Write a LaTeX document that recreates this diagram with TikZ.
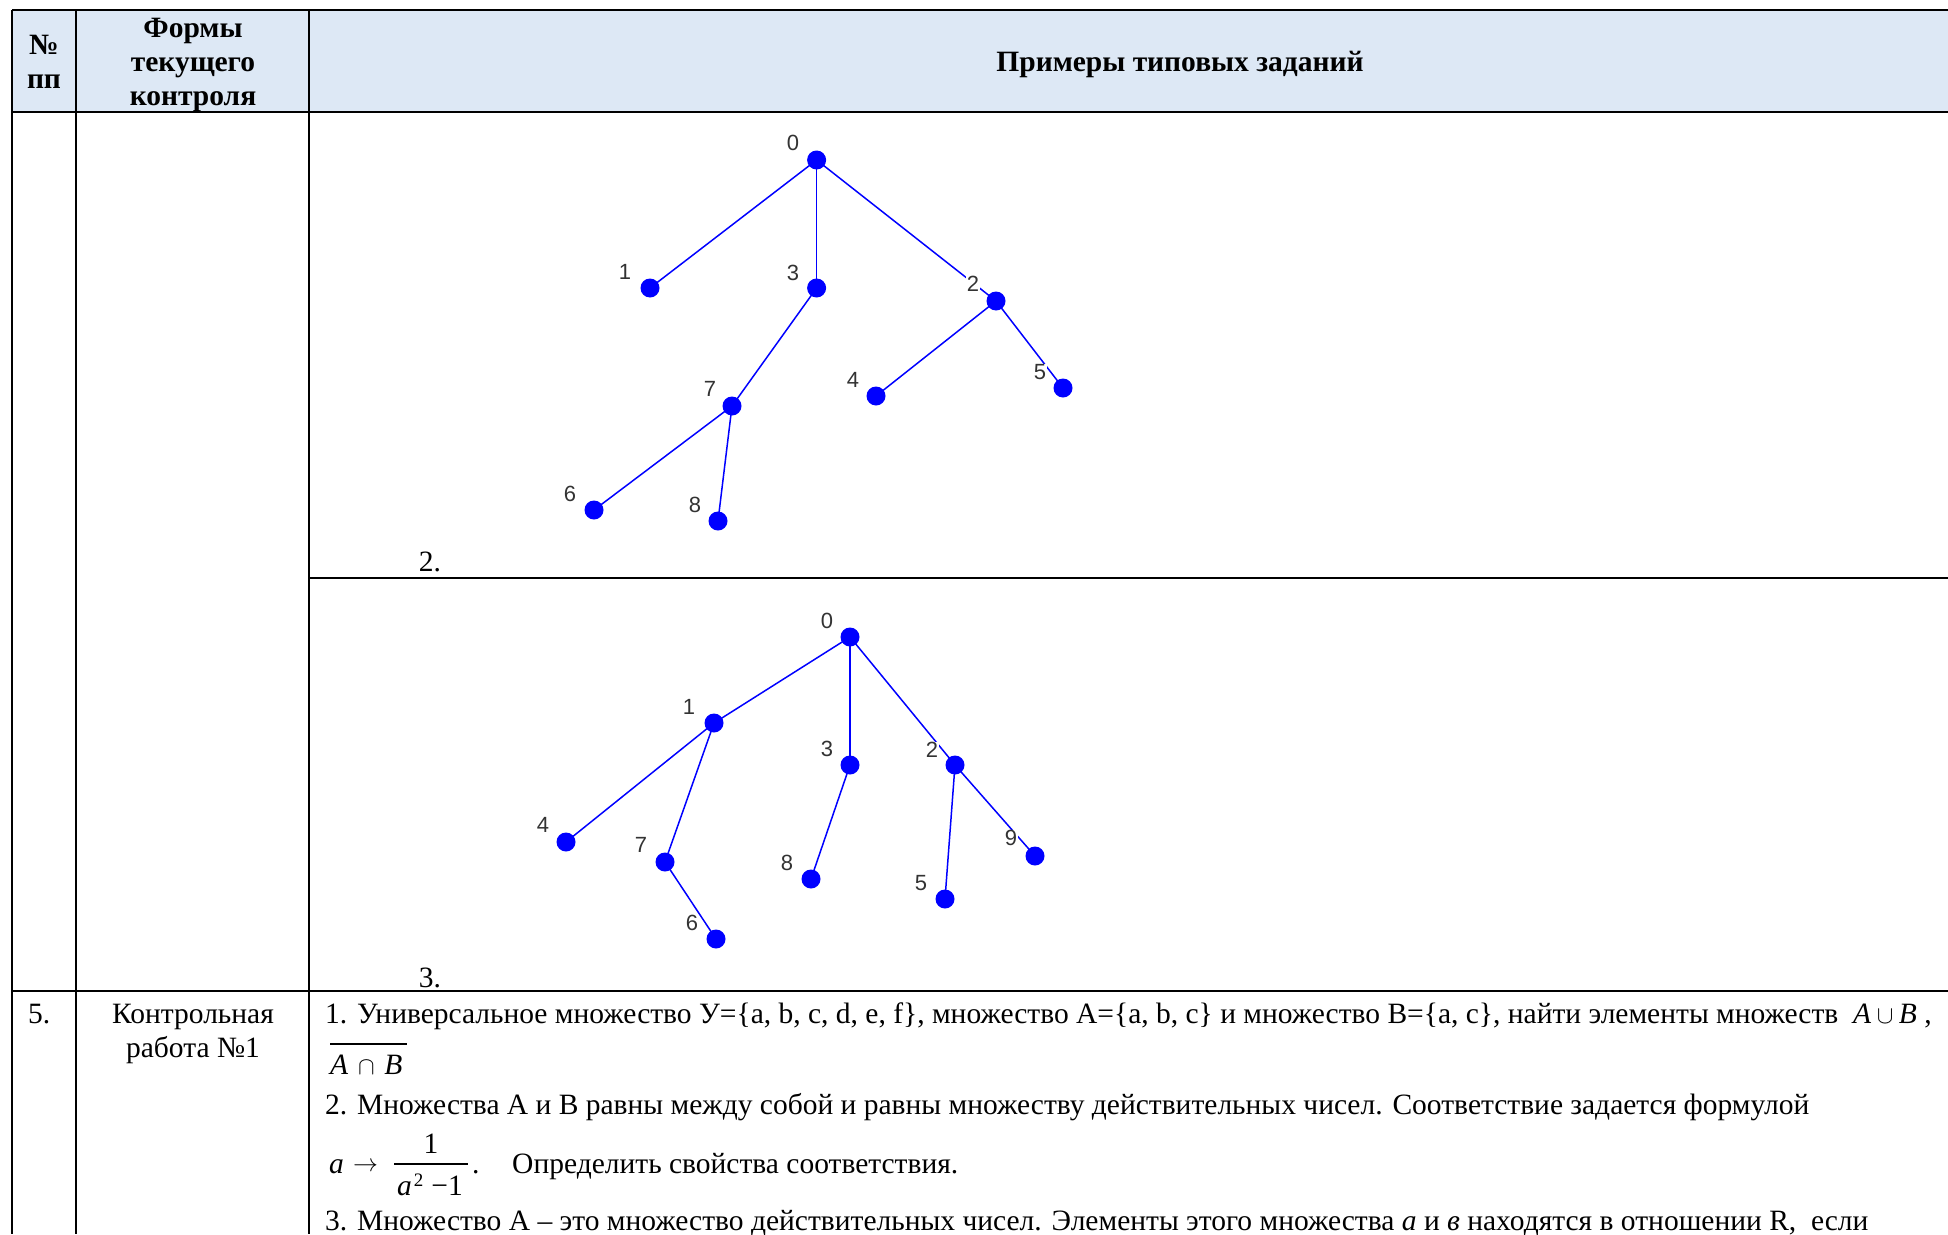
\documentclass[tikz,border=0pt]{standalone}
\usepackage{fontspec}
\setmainfont{Liberation Serif}
\setsansfont{Liberation Sans}
\usepackage{amsmath}
\definecolor{hdr}{RGB}{221,232,245}
\definecolor{treeblue}{RGB}{0,0,255}
\begin{document}
\begin{tikzpicture}[x=1pt,y=-1pt,
  rule/.style={line width=2.2pt,black},
  edge/.style={treeblue,line width=1.5pt},
  vtx/.style={circle,fill=treeblue,inner sep=0pt,minimum size=19pt},
  lab/.style={font=\sffamily\fontsize{22}{22}\selectfont,fill=white,inner sep=0.5pt,text=black!80},
  body/.style={font=\fontsize{29.5}{34}\selectfont,inner sep=0pt},
  head/.style={font=\bfseries\fontsize{29.5}{34}\selectfont,inner sep=0pt},
  bar/.style={line width=1.3pt,black}]
\useasboundingbox (0,0) rectangle (1948,1234);
% header
\fill[hdr] (12,10) rectangle (1948,112);
\draw[rule] (12,10) -- (1948,10);
\draw[rule] (12,112) -- (1948,112);
\draw[rule] (12,10) -- (12,1234);
\draw[rule] (76,10) -- (76,1234);
\draw[rule] (309,10) -- (309,1234);
\draw[rule] (309,578) -- (1948,578);
\draw[rule] (12,991) -- (1948,991);
\node[head,anchor=base] (h1a) at (44,54) {№};
\node[head,anchor=base] (h1b) at (44,88) {пп};
\node[head,anchor=base] (h2a) at (193,37) {Формы};
\node[head,anchor=base] (h2b) at (193,71) {текущего};
\node[head,anchor=base] (h2c) at (193,105) {контроля};
\node[head,anchor=base] (h3) at (1180,71) {Примеры типовых заданий};
% tree 1
\coordinate (t1n0) at (816.6,160);
\coordinate (t1n1) at (650,288);
\coordinate (t1n3) at (816.6,288);
\coordinate (t1n2) at (996,301);
\coordinate (t1n7) at (732,406);
\coordinate (t1n4) at (876,396);
\coordinate (t1n5) at (1063,388);
\coordinate (t1n6) at (594,510);
\coordinate (t1n8) at (718,521);
\draw[edge] (t1n0) -- (t1n1);
\draw[edge] (t1n0) -- (t1n3);
\draw[edge] (t1n0) -- (t1n2);
\draw[edge] (t1n3) -- (t1n7);
\draw[edge] (t1n2) -- (t1n4);
\draw[edge] (t1n2) -- (t1n5);
\draw[edge] (t1n7) -- (t1n6);
\draw[edge] (t1n7) -- (t1n8);
\node[lab] (t1l0) at (793,143) {0};
\node[lab] (t1l1) at (625,272) {1};
\node[lab] (t1l3) at (793,273) {3};
\node[lab] (t1l2) at (973,284) {2};
\node[lab] (t1l7) at (710,389) {7};
\node[lab] (t1l4) at (853,380) {4};
\node[lab] (t1l5) at (1040,372) {5};
\node[lab] (t1l6) at (570,494) {6};
\node[lab] (t1l8) at (695,505) {8};
\foreach \n in {0,1,2,3,4,5,6,7,8} \node[vtx] (t1v\n) at (t1n\n) {};
\node[body,anchor=base] (lab2) at (430,571) {2.};
% tree 2
\coordinate (t2n0) at (850,637);
\coordinate (t2n1) at (714,723);
\coordinate (t2n3) at (850,765);
\coordinate (t2n2) at (955,765);
\coordinate (t2n4) at (566,842);
\coordinate (t2n7) at (665,862);
\coordinate (t2n8) at (811,879);
\coordinate (t2n5) at (945,899);
\coordinate (t2n9) at (1035,856);
\coordinate (t2n6) at (716,939);
\draw[edge] (t2n0) -- (t2n1);
\draw[edge] (t2n0) -- (t2n3);
\draw[edge] (t2n0) -- (t2n2);
\draw[edge] (t2n1) -- (t2n4);
\draw[edge] (t2n1) -- (t2n7);
\draw[edge] (t2n7) -- (t2n6);
\draw[edge] (t2n3) -- (t2n8);
\draw[edge] (t2n2) -- (t2n5);
\draw[edge] (t2n2) -- (t2n9);
\node[lab] (t2l0) at (827,621) {0};
\node[lab] (t2l1) at (689,707) {1};
\node[lab] (t2l3) at (827,749) {3};
\node[lab] (t2l2) at (932,750) {2};
\node[lab] (t2l4) at (543,825) {4};
\node[lab] (t2l7) at (641,845) {7};
\node[lab] (t2l8) at (787,863) {8};
\node[lab] (t2l5) at (921,883) {5};
\node[lab] (t2l9) at (1011,838) {9};
\node[lab] (t2l6) at (692,923) {6};
\foreach \n in {0,1,2,3,4,5,6,7,8,9} \node[vtx] (t2v\n) at (t2n\n) {};
\node[body,anchor=base] (lab3) at (430,987) {3.};
% row 5
\node[body,anchor=base west] (r5n) at (28,1023) {5.};
\node[body,anchor=base] (r5a) at (193,1023) {Контрольная};
\node[body,anchor=base] (r5b) at (193,1057) {работа №1};
\node[body,anchor=base west] (l1) at (325,1023) {1. Универсальное множество У=\{a, b, c, d, e, f\}, множество А=\{a, b, c\} и множество В=\{a, c\}, найти элементы множеств \ $\text{\textit{A}}\cup\text{\textit{B}}$ ,};
\node[body,anchor=base west] (l2) at (330,1074) {$\text{\textit{A}}\,\cap\,\text{\textit{B}}$};
\draw[bar] (330,1044) -- (407,1044);
\node[body,anchor=base west] (l3) at (325,1114) {2. Множества А и В равны между собой и равны множеству действительных чисел. Соответствие задается формулой};
\node[body,anchor=base west] (fa) at (329,1173) {\textit{a}};
\node[body,anchor=base west] (fto) at (353,1171) {$\to$};
\draw[bar] (394,1164) -- (468,1164);
\node[body,anchor=base] (fnum) at (431,1153) {1};
\node[body,anchor=base west] (fden) at (397,1195) {\textit{a}\hspace{2pt}\raisebox{9pt}{\fontsize{19}{19}\selectfont 2}\hspace{8pt}−1};
\node[body,anchor=base west] (fdot) at (472,1173) {.};
\node[body,anchor=base west] (l4b) at (512,1173) {Определить свойства соответствия.};
\node[body,anchor=base west] (l5) at (325,1230) {3. Множество А – это множество действительных чисел. Элементы этого множества \textit{a} и \textit{в} находятся в отношении R, \ если};
\end{tikzpicture}
\end{document}
